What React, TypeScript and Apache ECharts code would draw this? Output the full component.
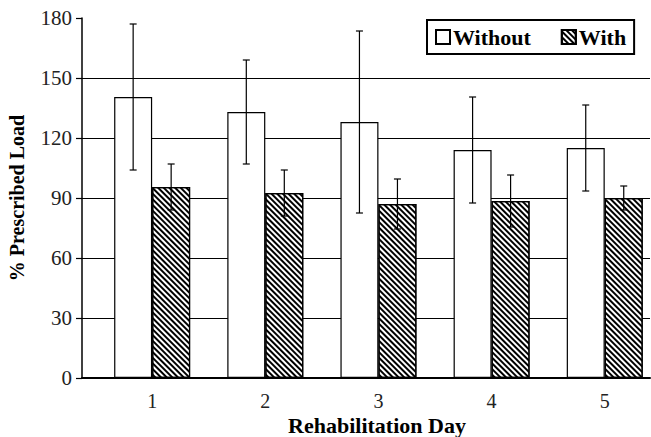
import React, { useEffect, useRef } from "react";
import * as echarts from "echarts";

const days = [1, 2, 3, 4, 5];
const withoutMean = [140.5, 133, 128, 114, 115];
const withoutErr = [36.5, 26, 45.5, 26.5, 21.5];
const withMean = [95.5, 92.5, 87, 88.5, 90];
const withErr = [11.5, 11.5, 12.5, 13, 6];
const yTicks = { min: 0, max: 180, interval: 30 };
const seriesNames = ["Without", "With"];

const SERIF = "'Liberation Serif', 'DejaVu Serif', serif";
const BAR_W = 38;

function errorSeries(name: string, mean: number[], err: number[], offset: number) {
  return {
    type: "custom",
    name: name + " error",
    z: 5,
    silent: true,
    data: days.map((d, i) => [d, mean[i], err[i]]),
    encode: { x: 0, y: 1 },
    renderItem: (_params: any, api: any) => {
      const x = api.value(0);
      const m = api.value(1);
      const e = api.value(2);
      const top = api.coord([x, m + e]);
      const bot = api.coord([x, m - e]);
      const cx = top[0] + offset;
      const cap = 3.5;
      const style = { stroke: "#000", lineWidth: 1.2 };
      return {
        type: "group",
        children: [
          { type: "line", shape: { x1: cx, y1: top[1], x2: cx, y2: bot[1] }, style },
          { type: "line", shape: { x1: cx - cap, y1: top[1], x2: cx + cap, y2: top[1] }, style },
          { type: "line", shape: { x1: cx - cap, y1: bot[1], x2: cx + cap, y2: bot[1] }, style },
        ],
      };
    },
  };
}

export default function App() {
  const ref = useRef<HTMLDivElement>(null);
  useEffect(() => {
    if (!ref.current) return;
    const chart = echarts.init(ref.current, null, { renderer: "svg" });
    chart.setOption({
      animation: false,
      backgroundColor: "#fff",
      grid: { left: 82, right: 1, top: 18, bottom: 59, containLabel: false, outerBoundsMode: "none" },
      legend: {
        data: seriesNames,
        left: 427,
        top: 20,
        orient: "horizontal",
        borderColor: "#000",
        borderWidth: 2,
        padding: [6, 8, 6, 8],
        itemGap: 30,
        itemWidth: 14,
        itemHeight: 14,
        icon: "rect",
        textStyle: { fontFamily: SERIF, fontWeight: "bold", fontSize: 22, color: "#000", padding: [2, 0, 0, -2] },
      },
      xAxis: {
        type: "value",
        min: 0.38,
        max: 5.4,
        splitNumber: 5,
        name: "Rehabilitation Day",
        nameLocation: "middle",
        nameGap: 36,
        nameMoveOverlap: false,
        nameTextStyle: { fontFamily: SERIF, fontWeight: "bold", fontSize: 22, color: "#000", padding: [0, 0, 0, 22] },
        axisLine: { show: true, onZero: false, lineStyle: { color: "#000", width: 2 } },
        axisTick: { show: false },
        splitLine: { show: false },
        axisLabel: {
          margin: 13,
          fontFamily: SERIF,
          fontSize: 20,
          color: "#222",
          formatter: (v: number) => (Math.abs(v - Math.round(v)) < 1e-6 ? String(Math.round(v)) : ""),
        },
      },
      yAxis: {
        type: "value",
        min: yTicks.min,
        max: yTicks.max,
        interval: yTicks.interval,
        name: "% Prescribed Load",
        nameLocation: "middle",
        nameGap: 55,
        nameMoveOverlap: false,
        nameTextStyle: { fontFamily: SERIF, fontWeight: "bold", fontSize: 20, color: "#000" },
        axisLine: { show: true, lineStyle: { color: "#000", width: 1.5 } },
        axisTick: { show: true, inside: false, length: 6, lineStyle: { color: "#000", width: 1.2 } },
        splitLine: { show: true, showMinLine: false, showMaxLine: false, lineStyle: { color: "#000", width: 1.2 } },
        axisLabel: { margin: 10, fontFamily: SERIF, fontSize: 21, color: "#222" },
      },
      series: [
        {
          type: "bar",
          name: seriesNames[0],
          data: days.map((d, i) => [d, withoutMean[i]]),
          barWidth: BAR_W,
          barGap: "0%",
          itemStyle: { color: "#fff", borderColor: "#000", borderWidth: 1.2 },
        },
        {
          type: "bar",
          name: seriesNames[1],
          data: days.map((d, i) => [d, withMean[i]]),
          barWidth: BAR_W,
          barGap: "0%",
          itemStyle: {
            color: "#fff",
            borderColor: "#000",
            borderWidth: 1.2,
            decal: {
              symbol: "rect",
              symbolSize: 1,
              dashArrayX: [1, 0],
              dashArrayY: [2, 1.5],
              rotation: Math.PI / 4,
              color: "#000",
            },
          },
        },
        errorSeries(seriesNames[0], withoutMean, withoutErr, -BAR_W / 2),
        errorSeries(seriesNames[1], withMean, withErr, BAR_W / 2),
      ],
    });
    return () => chart.dispose();
  }, []);
  return <div ref={ref} style={{ width: 651, height: 437, position: "absolute", left: 0, top: 0 }} />;
}
